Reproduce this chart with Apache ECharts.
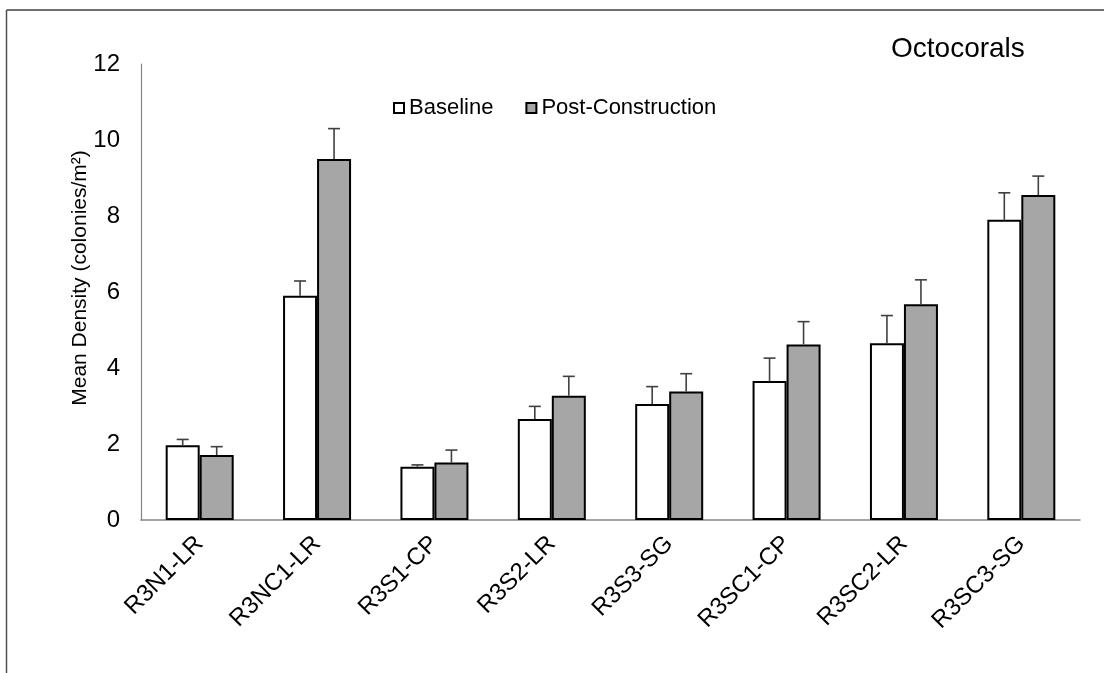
<!DOCTYPE html>
<html>
<head>
<meta charset="utf-8">
<script src="https://cdn.jsdelivr.net/npm/echarts@6/dist/echarts.min.js"></script>
<style>
  html, body { margin: 0; padding: 0; background: #fff; }
  #chart { width: 1104px; height: 673px; }
</style>
</head>
<body>
<div id="chart"></div>
<script>
const categories = ["R3N1-LR", "R3NC1-LR", "R3S1-CP", "R3S2-LR", "R3S3-SG", "R3SC1-CP", "R3SC2-LR", "R3SC3-SG"];
const baseline = [1.97, 5.90, 1.40, 2.66, 3.05, 3.66, 4.65, 7.90];
const baselineErr = [0.15, 0.39, 0.05, 0.33, 0.46, 0.60, 0.73, 0.71];
const post = [1.71, 9.50, 1.51, 3.27, 3.38, 4.62, 5.68, 8.55];
const postErr = [0.22, 0.80, 0.33, 0.51, 0.47, 0.60, 0.64, 0.50];
const yTicks = [0, 2, 4, 6, 8, 10, 12];

const FONT = "Liberation Sans, Arial, sans-serif";
const BAR_W = 34;

// error bar drawn above a bar; offset is half a bar to the left or right
function errorSeries(name, vals, errs, offset) {
  return {
    type: "custom",
    name: name + " err",
    z: 5,
    data: vals.map((v, i) => [i, v, v + errs[i]]),
    renderItem: function (params, api) {
      const lo = api.coord([api.value(0), api.value(1)]);
      const hi = api.coord([api.value(0), api.value(2)]);
      const x = lo[0] + offset;
      const style = { stroke: "#404040", lineWidth: 1.6 };
      return {
        type: "group",
        children: [
          { type: "line", shape: { x1: x, y1: lo[1], x2: x, y2: hi[1] }, style: style },
          { type: "line", shape: { x1: x - 6, y1: hi[1], x2: x + 6, y2: hi[1] }, style: style },
        ],
      };
    },
  };
}

const chart = echarts.init(document.getElementById("chart"));
chart.setOption({
  animation: false,
  textStyle: { fontFamily: FONT },
  title: {
    text: "Octocorals",
    left: 886,
    top: 30,
    textStyle: { fontSize: 28, fontWeight: "normal", color: "#000", fontFamily: FONT },
  },
  legend: {
    left: 388,
    top: 92,
    icon: "rect",
    itemWidth: 10,
    itemHeight: 10,
    itemGap: 32,
    data: ["Baseline", "Post-Construction"],
    textStyle: { fontSize: 22, color: "#000", fontFamily: FONT },
  },
  grid: { left: 141, right: 24, top: 64, bottom: 153 },
  xAxis: {
    type: "category",
    data: categories,
    axisTick: { show: false },
    axisLine: { lineStyle: { color: "#868686", width: 1.5 } },
    axisLabel: { rotate: 45, margin: 20, fontSize: 24, color: "#000", fontFamily: FONT, interval: 0 },
  },
  yAxis: {
    type: "value",
    min: yTicks[0],
    max: yTicks[yTicks.length - 1],
    interval: 2,
    name: "Mean Density (colonies/m²)",
    nameLocation: "middle",
    nameGap: 50,
    nameMoveOverlap: false,
    nameTextStyle: { fontSize: 21, color: "#000", fontFamily: FONT, padding: [0, 0, 0, 28] },
    splitLine: { show: false },
    axisTick: { show: false },
    axisLine: { show: true, lineStyle: { color: "#868686", width: 1.2 } },
    axisLabel: { margin: 21, fontSize: 24, color: "#000", fontFamily: FONT },
  },
  graphic: [
    { type: "line", shape: { x1: 6.5, y1: 10, x2: 1104, y2: 10 }, style: { stroke: "#404040", lineWidth: 1.5 } },
    { type: "line", shape: { x1: 6.5, y1: 10, x2: 6.5, y2: 673 }, style: { stroke: "#505050", lineWidth: 1.5 } },
  ],
  series: [
    {
      name: "Baseline",
      type: "bar",
      barWidth: BAR_W,
      barGap: "0%",
      data: baseline,
      itemStyle: { color: "#ffffff", borderColor: "#000", borderWidth: 2 },
    },
    {
      name: "Post-Construction",
      type: "bar",
      barWidth: BAR_W,
      barGap: "0%",
      data: post,
      itemStyle: { color: "#a6a6a6", borderColor: "#000", borderWidth: 2 },
    },
    errorSeries("Baseline", baseline, baselineErr, -BAR_W / 2),
    errorSeries("Post-Construction", post, postErr, BAR_W / 2),
  ],
});
</script>
</body>
</html>
